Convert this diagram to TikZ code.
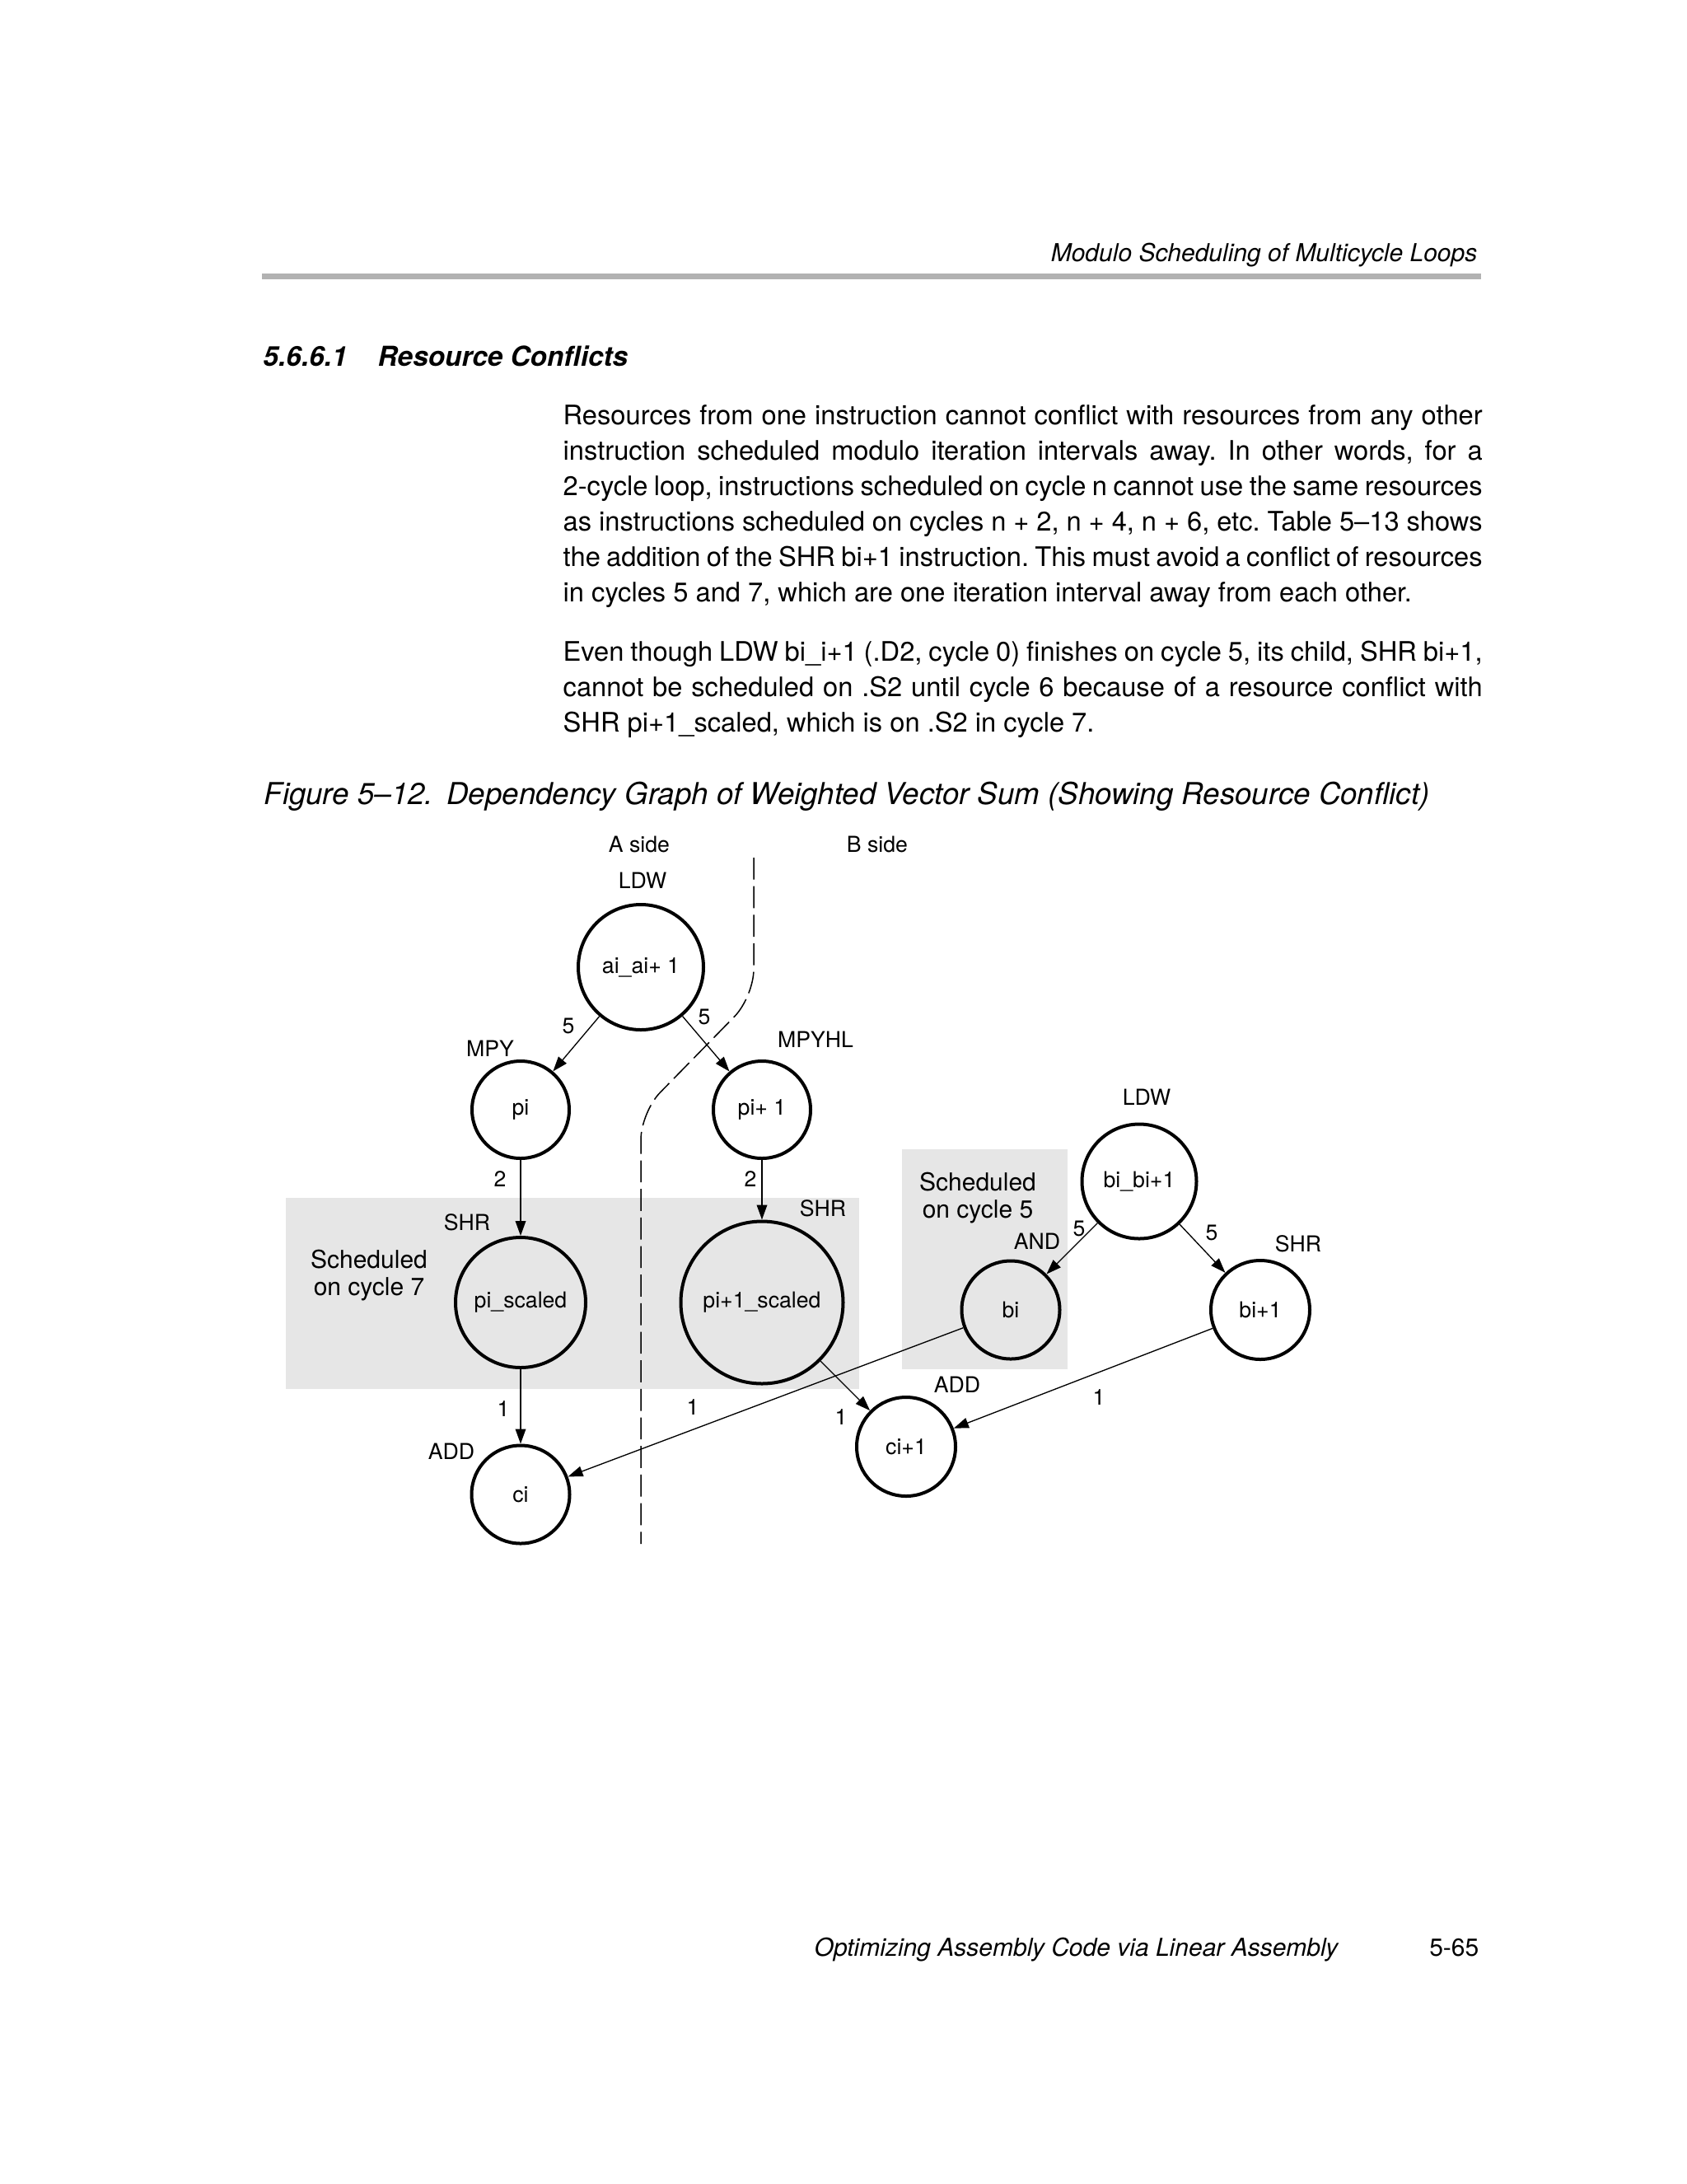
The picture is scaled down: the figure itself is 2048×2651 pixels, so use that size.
\documentclass[tikz,border=0pt]{standalone}
\usepackage{fontspec}
\setmainfont{TeX Gyre Heros}
\usetikzlibrary{arrows.meta}
\frenchspacing

\newlength\linew
\setlength\linew{334.8pt}
\newcommand\jline[1]{\hbox to \linew{#1}}
\newcommand\lastline[1]{\hbox to \linew{#1\hfil}}

\begin{document}
\begin{tikzpicture}[x=0.010542cm, y=-0.010542cm,
	op/.style={circle, draw, line width=1.2pt, inner sep=0pt, font=\fontsize{8}{9.6}\selectfont},
	lbl/.style={font=\fontsize{8}{9.6}\selectfont},
	note/.style={font=\fontsize{9}{10}\selectfont, align=center},
	dep/.style={-{Triangle[length=5.4pt,width=3.8pt]}, line width=0.4pt},
	body/.style={anchor=base west, inner sep=0pt, font=\fontsize{9.8}{12.9}\selectfont}]
	\definecolor{rulegray}{RGB}{178, 178, 178}
	\definecolor{schedgray}{RGB}{230, 230, 230}

	\fill[white] (0,0) rectangle (2048,2651);
	\useasboundingbox (0,0) rectangle (2048,2651);

	% page head
	\draw (1794,317) node[anchor=base east, inner sep=0pt, font=\fontsize{9}{11}\itshape] (head) {Modulo Scheduling of Multicycle Loops};
	\fill[rulegray] (318,332) rectangle (1798,339);
	\draw (319,444) node[anchor=base west, inner sep=0pt, font=\fontsize{10}{12}\bfseries\itshape] (secnum) {5.6.6.1};
	\draw (458,444) node[anchor=base west, inner sep=0pt, font=\fontsize{10}{12}\bfseries\itshape] (sectitle) {Resource Conflicts};

	% text
	\draw (683,515) node[body] (para1) {\vtop{%
		\jline{Resources from one instruction cannot conflict with resources from any other}
		\jline{instruction scheduled modulo iteration intervals away. In other words, for a}
		\jline{2-cycle loop, instructions scheduled on cycle n cannot use the same resources}
		\jline{as instructions scheduled on cycles n + 2, n + 4, n + 6, etc. Table 5–13 shows}
		\jline{the addition of the SHR bi+1 instruction. This must avoid a conflict of resources}
		\lastline{in cycles 5 and 7, which are one iteration interval away from each other.}}};
	\draw (683,802) node[body] (para2) {\vtop{%
		\jline{Even though LDW bi\_i+1 (.D2, cycle 0) finishes on cycle 5, its child, SHR bi+1,}
		\jline{cannot be scheduled on .S2 until cycle 6 because of a resource conflict with}
		\lastline{SHR pi+1\_scaled, which is on .S2 in cycle 7.}}};

	\draw (320,976) node[anchor=base west, inner sep=0pt, font=\fontsize{11}{13}\itshape] (caption) {Figure 5–12.\hspace{0.45em}Dependency Graph of Weighted Vector Sum (Showing Resource Conflict)};

	% shaded cycles
	\fill[schedgray] (347,1454) rectangle (1043,1686);
	\fill[schedgray] (1095,1395) rectangle (1296,1662);

	% A/B split
	\draw[dash pattern=on 8pt off 2.4pt, line width=0.45pt, rounded corners=10pt] (915,1041) -- (915,1210) -- (778,1350) -- (778,1874);
	\draw (776,1025) node[lbl] (aside) {A side};
	\draw (1065,1025) node[lbl] (bside) {B side};

	% nodes
	\draw (778,1174) node[op, minimum size=45.6pt] (ai) {ai\_ai+ 1};
	\draw (632,1347) node[op, minimum size=35.4pt] (pi) {pi};
	\draw (925,1347) node[op, minimum size=35.4pt] (pi1) {pi+ 1};
	\draw (632,1581) node[op, minimum size=47.4pt] (pis) {pi\_scaled};
	\draw (925,1581) node[op, minimum size=59.1pt] (pi1s) {pi+1\_scaled};
	\draw (632,1814) node[op, minimum size=35.7pt] (ci) {ci};
	\draw (1383,1434) node[op, minimum size=41.7pt] (bb) {bi\_bi+1};
	\draw (1227,1590) node[op, minimum size=35.7pt] (bi) {bi};
	\draw (1530,1590) node[op, minimum size=36pt] (bi1) {bi+1};
	\draw (1100,1756) node[op, minimum size=36pt] (ci1) {ci+1};

	% unit names
	\draw (780,1069) node[lbl] (ldwa) {LDW};
	\draw (595,1273) node[lbl] (mpy) {MPY};
	\draw (990,1262) node[lbl] (mpyhl) {MPYHL};
	\draw (567,1484) node[lbl] (shra) {SHR};
	\draw (999,1467) node[lbl] (shrb) {SHR};
	\draw (548,1762) node[lbl] (adda) {ADD};
	\draw (1392,1332) node[lbl] (ldwb) {LDW};
	\draw (1259,1507) node[lbl] (and) {AND};
	\draw (1576,1510) node[lbl] (shrc) {SHR};
	\draw (1162,1681) node[lbl] (addb) {ADD};

	\draw (448,1548) node[note] (cyc7) {Scheduled\\on cycle 7};
	\draw (1187,1454) node[note] (cyc5) {Scheduled\\on cycle 5};

	% dependencies
	\draw[dep] (ai) -- (pi);
	\draw[dep] (ai) -- (pi1);
	\draw[dep] (pi) -- (pis);
	\draw[dep] (pi1) -- (pi1s);
	\draw[dep] (pis) -- (ci);
	\draw[dep] (pi1s) -- (ci1);
	\draw[dep] (bb) -- (bi);
	\draw[dep] (bb) -- (bi1);
	\draw[dep] (bi1) -- (ci1);
	\draw[dep] (bi) -- (ci);

	% latencies
	\draw (690,1245) node[lbl] (l1) {5};
	\draw (855,1234) node[lbl] (l2) {5};
	\draw (607,1431) node[lbl] (l3) {2};
	\draw (911,1431) node[lbl] (l4) {2};
	\draw (611,1710) node[lbl] (l5) {1};
	\draw (841,1708) node[lbl] (l6) {1};
	\draw (1021,1720) node[lbl] (l7) {1};
	\draw (1310,1491) node[lbl] (l8) {5};
	\draw (1471,1496) node[lbl] (l9) {5};
	\draw (1334,1696) node[lbl] (l10) {1};

	% page foot
	\draw (988,2374) node[anchor=base west, inner sep=0pt, font=\fontsize{9}{11}\itshape] (foot) {Optimizing Assembly Code via Linear Assembly};
	\draw (1796,2374) node[anchor=base east, inner sep=0pt, font=\fontsize{9}{11}\selectfont] (pageno) {5-65};
\end{tikzpicture}
\end{document}
